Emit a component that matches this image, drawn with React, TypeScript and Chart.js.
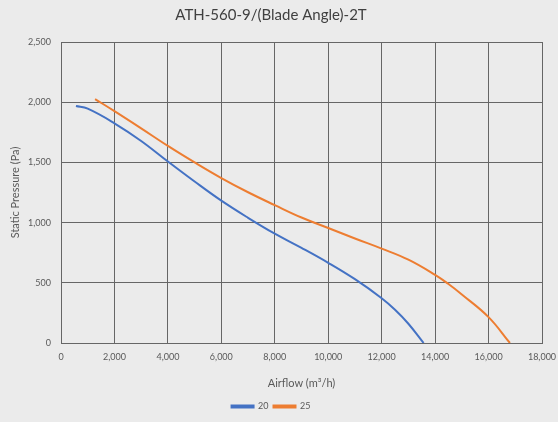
import React, { useEffect, useRef } from "react";
import { Chart, registerables } from "chart.js";

Chart.register(...registerables);

const title = "ATH-560-9/(Blade Angle)-2T";
const xTitle = "Airflow (m³/h)";
const yTitle = "Static Pressure (Pa)";

const series20X = [560, 1000, 2000, 3000, 4000, 5000, 6000, 7000, 8000, 9000, 10000, 11000, 12000, 12500, 13000, 13570];
const series20Y = [1968, 1946, 1825, 1678, 1507, 1341, 1182, 1040, 908, 790, 666, 530, 372, 276, 160, 0];

const series25X = [1275, 2000, 3000, 4000, 5000, 6000, 7000, 8000, 9000, 10000, 11000, 12000, 13000, 14000, 14500, 15000, 16000, 16800];
const series25Y = [2026, 1926, 1783, 1637, 1500, 1370, 1252, 1145, 1042, 955, 868, 784, 692, 566, 490, 403, 215, 0];

const xMin = 0, xMax = 18000, xStep = 2000;
const yMin = 0, yMax = 2500, yStep = 500;

const FONT = "Lato, 'Open Sans', sans-serif";

export default function App() {
  const ref = useRef<HTMLCanvasElement | null>(null);
  useEffect(() => {
    if (!ref.current) return;
    const chart = new Chart(ref.current, {
      type: "line",
      data: {
        datasets: [
          {
            label: "20",
            data: series20X.map((x, i) => ({ x, y: series20Y[i] })),
            borderColor: "#4472C4",
            backgroundColor: "#4472C4",
            borderWidth: 2,
            pointRadius: 0,
            tension: 0.4,
          },
          {
            label: "25",
            data: series25X.map((x, i) => ({ x, y: series25Y[i] })),
            borderColor: "#ED7D31",
            backgroundColor: "#ED7D31",
            borderWidth: 2,
            pointRadius: 0,
            tension: 0.4,
          },
        ],
      },
      options: {
        animation: false,
        responsive: false,
        layout: { padding: { left: 0, right: 16, top: 0, bottom: 1 } },
        plugins: {
          title: {
            display: true,
            text: title,
            color: "#404040",
            font: { family: FONT, size: 15, weight: "normal" },
            padding: { top: 6, bottom: 18 },
          },
          legend: {
            position: "bottom",
            labels: {
              boxWidth: 22,
              boxHeight: 2,
              color: "#595959",
              font: { family: FONT, size: 9 },
              padding: 5,
            },
          },
          tooltip: { enabled: false },
        },
        scales: {
          x: {
            type: "linear",
            min: xMin,
            max: xMax,
            ticks: {
              stepSize: xStep,
              color: "#595959",
              font: { family: FONT, size: 9 },
              padding: 9,
              callback: (v: any) => Number(v).toLocaleString("en-US"),
            },
            grid: { color: "#666666", drawTicks: false },
            border: { color: "#666666" },
            title: {
              display: true,
              text: xTitle,
              color: "#595959",
              font: { family: FONT, size: 11 },
              padding: { top: 4, bottom: 7 },
            },
            afterFit: (s: any) => {
              s.height = 54;
              s.paddingRight = 0;
              s.paddingLeft = 0;
            },
          },
          y: {
            min: yMin,
            max: yMax,
            ticks: {
              stepSize: yStep,
              color: "#595959",
              font: { family: FONT, size: 9 },
              padding: 10,
              callback: (v: any) => Number(v).toLocaleString("en-US"),
            },
            grid: { color: "#666666", drawTicks: false },
            border: { color: "#666666" },
            title: {
              display: true,
              text: yTitle,
              color: "#595959",
              font: { family: FONT, size: 11 },
              padding: { top: 9, bottom: 0 },
            },
            afterFit: (s: any) => {
              s.width = 61;
            },
          },
        },
      },
    });
    return () => chart.destroy();
  }, []);
  return (
    <div style={{ position: "absolute", left: 0, top: 0, width: 558, height: 422, background: "#ebebeb" }}>
      <canvas ref={ref} width={558} height={422} style={{ width: 558, height: 422 }} />
    </div>
  );
}
